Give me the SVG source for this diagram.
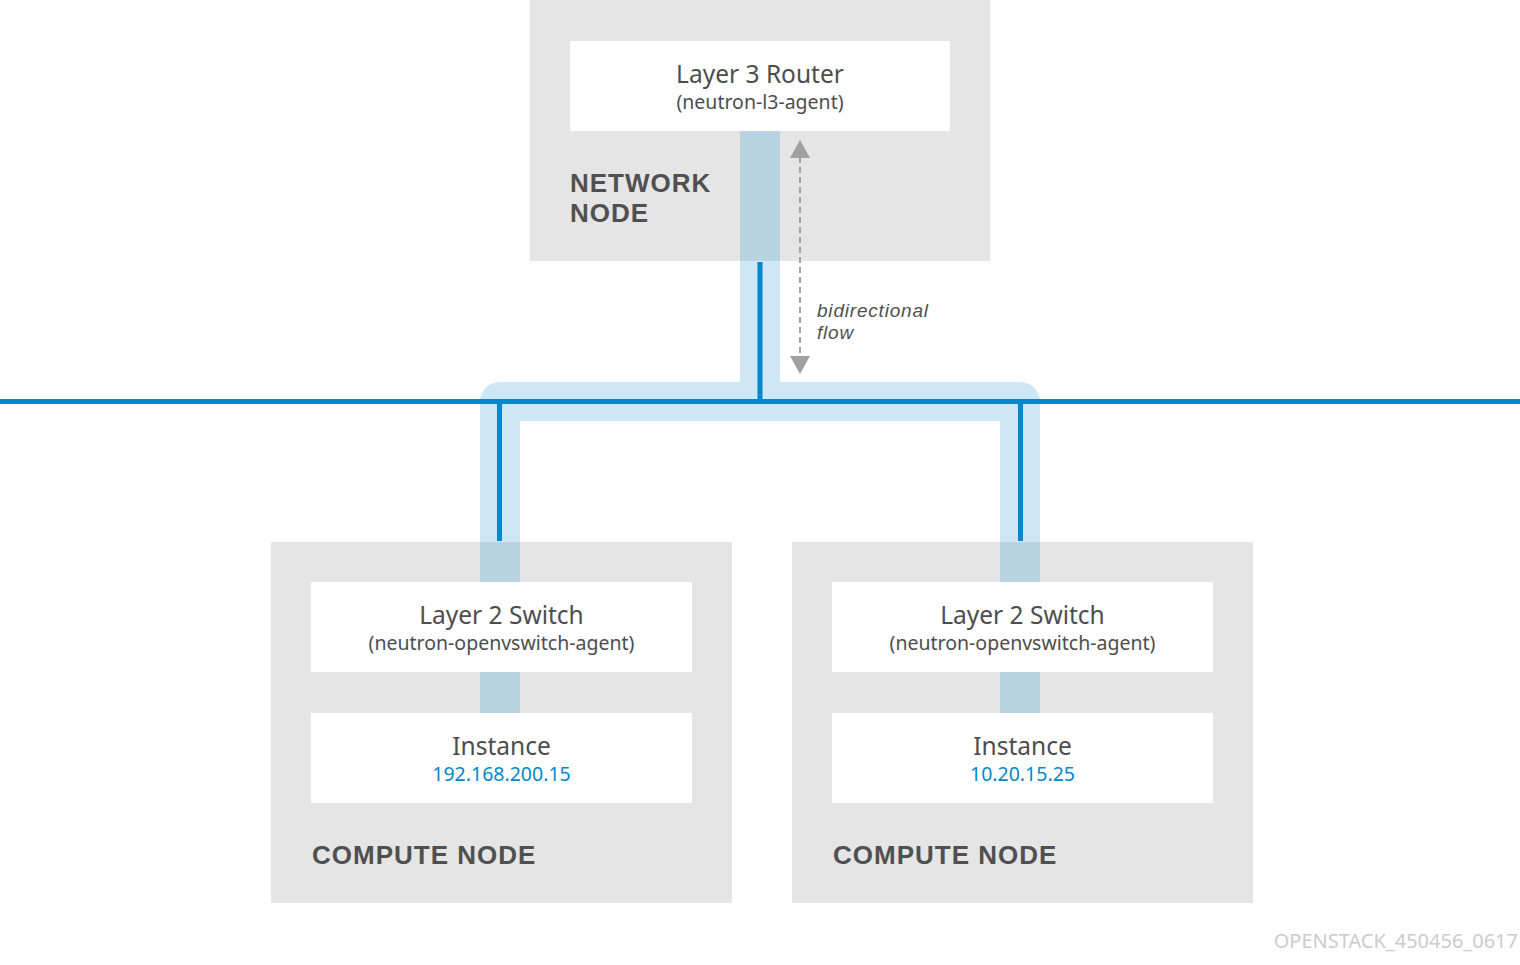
<svg xmlns="http://www.w3.org/2000/svg" width="1520" height="965" viewBox="0 0 1520 965">
<defs>
<style>
.node{fill:#e5e5e5}
.box{fill:#ffffff}
.band{fill:#cde7f6}
.bandd{fill:#b7d3e1}
.wire{stroke:#0088ce;stroke-width:5;fill:none}
.head{fill:#a0a0a0}
.t1{font-family:"Noto Sans","Liberation Sans",sans-serif;font-size:24.5px;fill:#4d4d4d;text-anchor:middle}
.t2{font-family:"Noto Sans","Liberation Sans",sans-serif;font-size:19.5px;fill:#4d4d4d;text-anchor:middle}
.ip{font-family:"Noto Sans","Liberation Sans",sans-serif;font-size:19.5px;fill:#0088ce;text-anchor:middle}
.lbl{font-family:"Liberation Sans",Arial,sans-serif;font-size:26px;font-weight:bold;fill:#505050;letter-spacing:1px}
.it{font-family:"Liberation Sans",Arial,sans-serif;font-size:19px;font-style:italic;fill:#505050;letter-spacing:0.8px}
.foot{font-family:"Noto Sans","Liberation Sans",sans-serif;font-size:20px;fill:#cccccc;text-anchor:end}
</style>
</defs>
<rect width="1520" height="965" fill="#ffffff"/>

<g id="network-node">
<rect class="node" x="530" y="0" width="460" height="261"/>
<rect class="box" x="570" y="41" width="380" height="90"/>
<text class="t1" x="760" y="83">Layer 3 Router</text>
<text class="t2" x="760" y="109">(neutron-l3-agent)</text>
<text class="lbl" x="570" y="192">NETWORK</text>
<text class="lbl" x="570" y="222">NODE</text>
</g>

<g id="compute-node-1">
<rect class="node" x="271" y="542" width="461" height="361"/>
<rect class="box" x="311" y="582" width="381" height="90"/>
<rect class="box" x="311" y="713" width="381" height="90"/>
<text class="t1" x="501.5" y="624">Layer 2 Switch</text>
<text class="t2" x="501.5" y="650">(neutron-openvswitch-agent)</text>
<text class="t1" x="501.5" y="755">Instance</text>
<text class="ip" x="501.5" y="781">192.168.200.15</text>
<text class="lbl" x="312" y="864">COMPUTE NODE</text>
</g>

<g id="compute-node-2">
<rect class="node" x="792" y="542" width="461" height="361"/>
<rect class="box" x="832" y="582" width="381" height="90"/>
<rect class="box" x="832" y="713" width="381" height="90"/>
<text class="t1" x="1022.5" y="624">Layer 2 Switch</text>
<text class="t2" x="1022.5" y="650">(neutron-openvswitch-agent)</text>
<text class="t1" x="1022.5" y="755">Instance</text>
<text class="ip" x="1022.5" y="781">10.20.15.25</text>
<text class="lbl" x="833" y="864">COMPUTE NODE</text>
</g>

<g id="connectors">
<path class="band" d="M500,382 L1020,382 A20,20 0 0 1 1040,402 L1040,542 L1000,542 L1000,421 L520,421 L520,542 L480,542 L480,402 A20,20 0 0 1 500,382 Z"/>
<rect class="band" x="740" y="261" width="40" height="122"/>
<rect class="bandd" x="740" y="131" width="40" height="130"/>
<rect class="bandd" x="480" y="542" width="40" height="40"/>
<rect class="bandd" x="480" y="672" width="40" height="41"/>
<rect class="bandd" x="1000" y="542" width="40" height="40"/>
<rect class="bandd" x="1000" y="672" width="40" height="41"/>
<line class="wire" x1="0" y1="401.5" x2="1520" y2="401.5"/>
<line class="wire" x1="760" y1="262" x2="760" y2="401"/>
<line class="wire" x1="499.5" y1="401" x2="499.5" y2="541"/>
<line class="wire" x1="1020.5" y1="401" x2="1020.5" y2="541"/>
<line x1="800" y1="157" x2="800" y2="357" stroke="#a0a0a0" stroke-width="2" stroke-dasharray="6,4"/>
<polygon class="head" points="800,140 810,158 790,158"/>
<polygon class="head" points="800,374 810,356 790,356"/>
<text class="it" x="817" y="317">bidirectional</text>
<text class="it" x="817" y="339">flow</text>
</g>

<text class="foot" x="1518" y="948">OPENSTACK_450456_0617</text>
</svg>
